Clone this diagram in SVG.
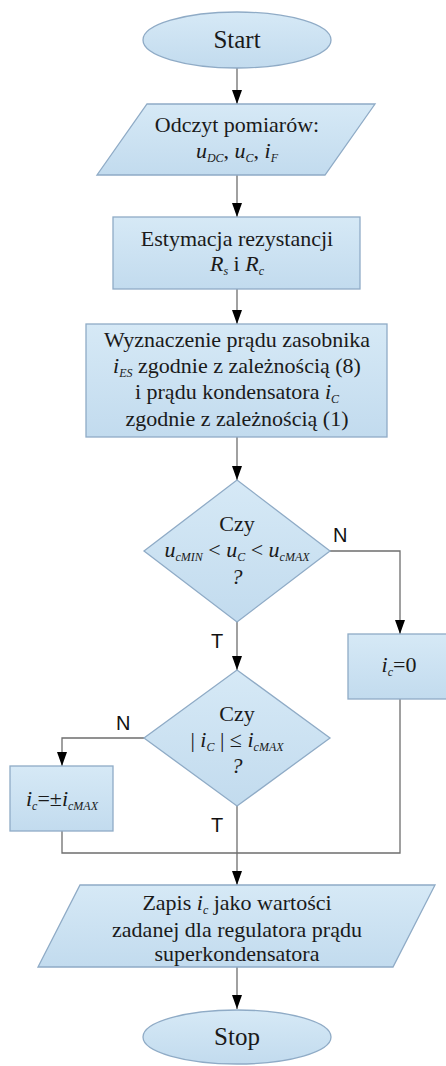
<svg xmlns="http://www.w3.org/2000/svg" width="446" height="1066" viewBox="0 0 446 1066">
<style>
.shape{fill:url(#g);stroke:#8fabc6;stroke-width:1.3}
.t{font-family:"Liberation Serif","Times New Roman",serif;font-size:22px;fill:#1a1a1a;text-anchor:middle}
.big{font-size:25px}
.i{font-style:italic}
.s{font-style:italic;font-size:12px}
.lbl{font-family:"Liberation Sans",Arial,sans-serif;font-size:20px;fill:#111}
.c{fill:none;stroke:#6e6e6e;stroke-width:1.3}
</style>
<defs>
<linearGradient id="g" x1="0" y1="0" x2="0" y2="1">
<stop offset="0" stop-color="#d6e9f6"/>
<stop offset="1" stop-color="#c2dbee"/>
</linearGradient>
<marker id="ah" viewBox="0 0 14 10" refX="14" refY="5" markerWidth="14" markerHeight="10" markerUnits="userSpaceOnUse" orient="auto">
<path d="M0,0 L14,5 L0,10 z" fill="#000"/>
</marker>
</defs>
<rect width="446" height="1066" fill="#fff"/>

<g id="connectors">
<path class="c" d="M237,68 V104" marker-end="url(#ah)"/>
<path class="c" d="M237,175 V217" marker-end="url(#ah)"/>
<path class="c" d="M237,289 V324" marker-end="url(#ah)"/>
<path class="c" d="M237,437 V480" marker-end="url(#ah)"/>
<path class="c" d="M330,551 H400 V634" marker-end="url(#ah)"/>
<path class="c" d="M237,622 V670" marker-end="url(#ah)"/>
<path class="c" d="M144,738 H62 V766" marker-end="url(#ah)"/>
<path class="c" d="M62,831 V853 H400 V699"/>
<path class="c" d="M237,806 V885" marker-end="url(#ah)"/>
<path class="c" d="M237,967 V1009" marker-end="url(#ah)"/>
<text class="lbl" x="333" y="542">N</text>
<text class="lbl" x="211" y="648">T</text>
<text class="lbl" x="116" y="730">N</text>
<text class="lbl" x="211" y="832">T</text>
</g>

<g id="start">
<ellipse class="shape" cx="237" cy="40" rx="94" ry="28"/>
<text class="t big" x="237" y="48">Start</text>
</g>

<g id="odczyt">
<polygon class="shape" points="147,104 375,104 325,175 97,175"/>
<text class="t" x="237" y="132">Odczyt pomiarów:</text>
<text class="t" x="237" y="158"><tspan class="i">u</tspan><tspan class="s" dy="4">DC</tspan><tspan dy="-4">, </tspan><tspan class="i">u</tspan><tspan class="s" dy="4">C</tspan><tspan dy="-4">, </tspan><tspan class="i">i</tspan><tspan class="s" dy="4">F</tspan></text>
</g>

<g id="estymacja">
<rect class="shape" x="113" y="217" width="247" height="72"/>
<text class="t" x="237" y="246">Estymacja rezystancji</text>
<text class="t" x="237" y="271"><tspan class="i">R</tspan><tspan class="s" dy="4">s</tspan><tspan dy="-4"> i </tspan><tspan class="i">R</tspan><tspan class="s" dy="4">c</tspan></text>
</g>

<g id="wyznaczenie">
<rect class="shape" x="86" y="324" width="301" height="113"/>
<text class="t" x="237" y="347">Wyznaczenie prądu zasobnika</text>
<text class="t" x="237" y="373"><tspan class="i">i</tspan><tspan class="s" dy="4">ES</tspan><tspan dy="-4"> zgodnie z zależnością (8)</tspan></text>
<text class="t" x="237" y="399">i prądu kondensatora <tspan class="i">i</tspan><tspan class="s" dy="4">C</tspan></text>
<text class="t" x="237" y="426">zgodnie z zależnością (1)</text>
</g>

<g id="decyzja1">
<polygon class="shape" points="237,480 330,551 237,622 144,551"/>
<text class="t" x="237" y="531">Czy</text>
<text class="t" x="237" y="557"><tspan class="i">u</tspan><tspan class="s" dy="4">cMIN</tspan><tspan dy="-4"> &lt; </tspan><tspan class="i">u</tspan><tspan class="s" dy="4">C</tspan><tspan dy="-4"> &lt; </tspan><tspan class="i">u</tspan><tspan class="s" dy="4">cMAX</tspan></text>
<text class="t i" x="237" y="584">?</text>
</g>

<g id="ic0">
<rect class="shape" x="348" y="634" width="104" height="65"/>
<text class="t" x="399" y="672"><tspan class="i">i</tspan><tspan class="s" dy="4">c</tspan><tspan dy="-4">=0</tspan></text>
</g>

<g id="decyzja2">
<polygon class="shape" points="237,670 330,738 237,806 144,738"/>
<text class="t" x="237" y="721">Czy</text>
<text class="t" x="237" y="747">| <tspan class="i">i</tspan><tspan class="s" dy="4">C</tspan><tspan dy="-4"> | ≤ </tspan><tspan class="i">i</tspan><tspan class="s" dy="4">cMAX</tspan></text>
<text class="t i" x="237" y="773">?</text>
</g>

<g id="icmax">
<rect class="shape" x="10" y="766" width="103" height="65"/>
<text class="t" x="62" y="806"><tspan class="i">i</tspan><tspan class="s" dy="4">c</tspan><tspan dy="-4">=±</tspan><tspan class="i">i</tspan><tspan class="s" dy="4">cMAX</tspan></text>
</g>

<g id="zapis">
<polygon class="shape" points="80,885 435,885 393,967 38,967"/>
<text class="t" x="237" y="910">Zapis <tspan class="i">i</tspan><tspan class="s" dy="4">c</tspan><tspan dy="-4"> jako wartości</tspan></text>
<text class="t" x="237" y="937">zadanej dla regulatora prądu</text>
<text class="t" x="237" y="961">superkondensatora</text>
</g>

<g id="stop">
<ellipse class="shape" cx="237" cy="1037" rx="94" ry="27"/>
<text class="t big" x="237" y="1045">Stop</text>
</g>
</svg>
